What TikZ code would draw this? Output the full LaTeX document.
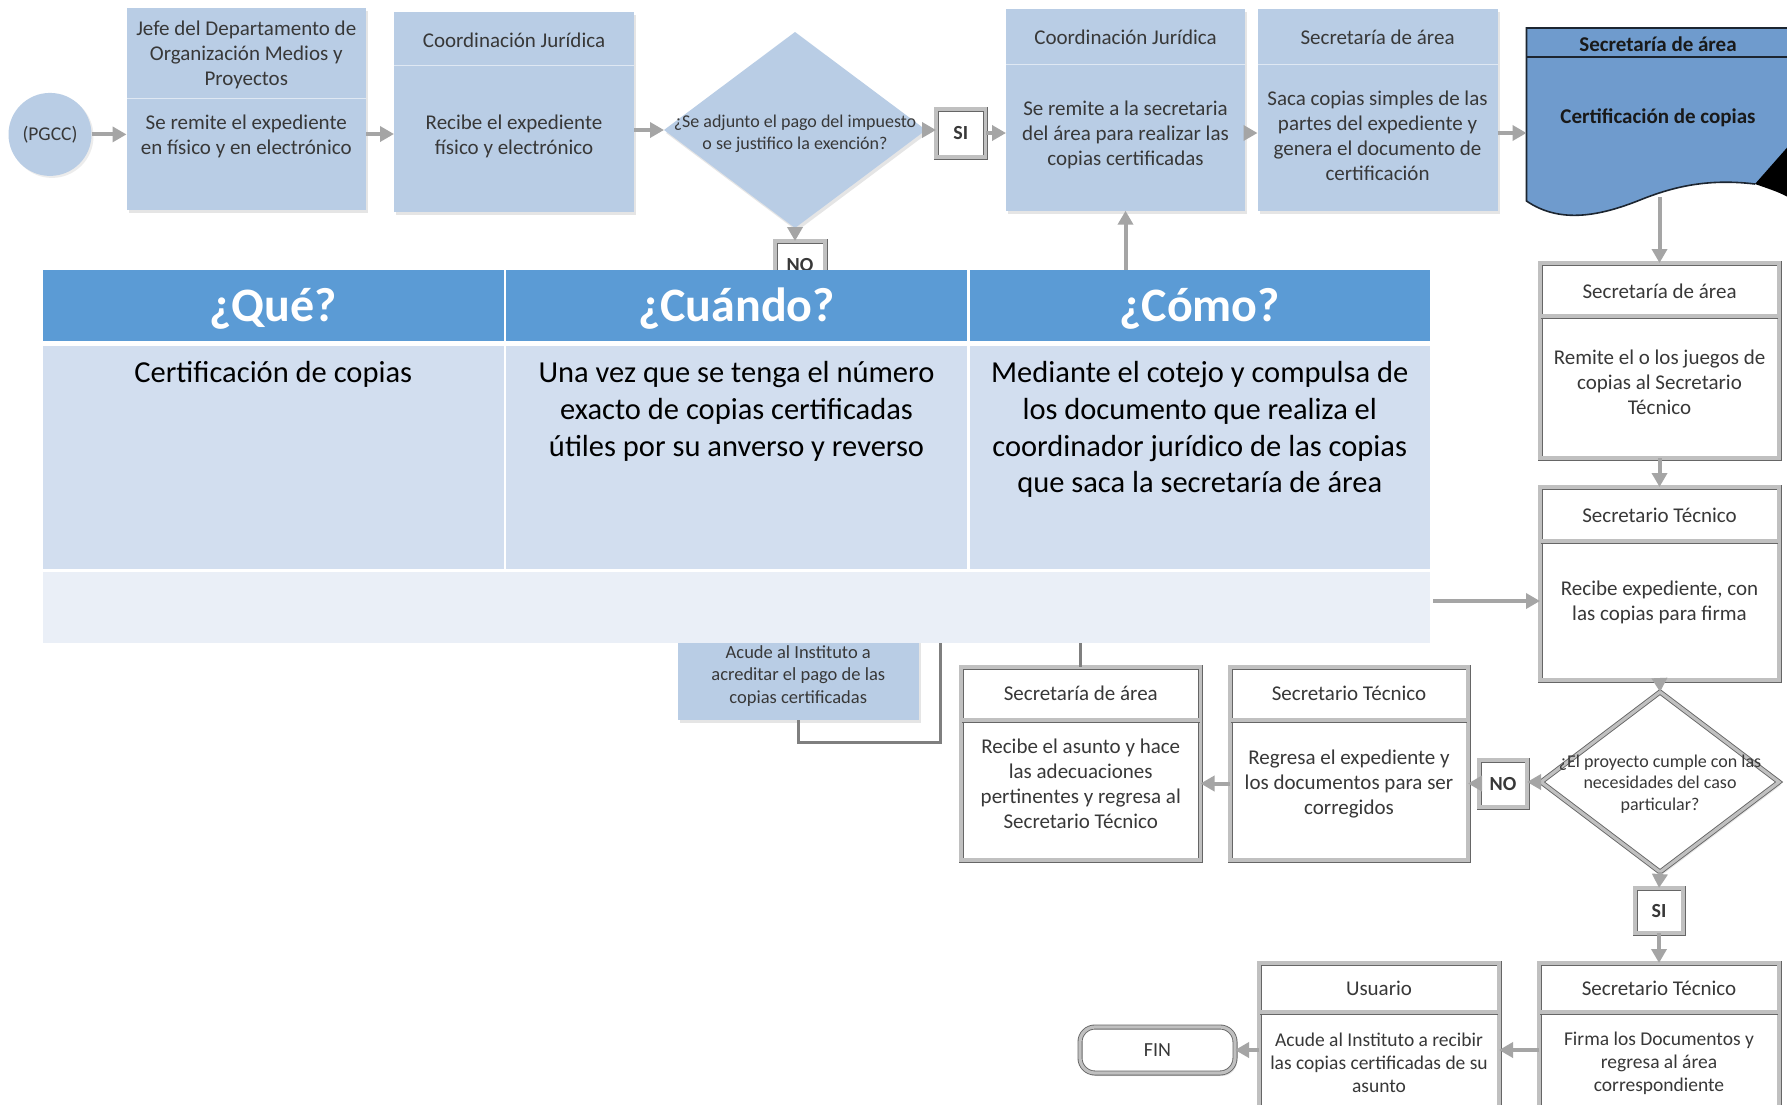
\documentclass[tikz,border=0pt]{standalone}
\usepackage{fontspec}
\setmainfont{Carlito}
\usetikzlibrary{arrows.meta,shapes.geometric,shadows}

\definecolor{boxblue}{HTML}{B9CDE5}
\definecolor{boxtext}{HTML}{383838}
\definecolor{flowgray}{HTML}{A5A5A5}
\definecolor{elbowgray}{HTML}{7F7F7F}
\definecolor{headblue}{HTML}{5B9BD5}
\definecolor{bodyblue}{HTML}{D2DEEF}
\definecolor{footblue}{HTML}{EAEFF7}
\definecolor{docblue}{HTML}{6F9BCD}
\definecolor{docedge}{HTML}{1C2530}
\definecolor{frameout}{HTML}{666666}
\definecolor{framein}{HTML}{C0C0C0}

\newcommand{\fsz}[2]{\fontsize{#1}{#2}\selectfont}

\begin{document}
\begin{tikzpicture}[x=1pt,y=-1pt,
  every node/.style={inner sep=0pt, outer sep=0pt},
  softshadow/.style={drop shadow={opacity=0.2,shadow xshift=2pt,shadow yshift=-3pt}},
  bluebox/.style={fill=boxblue, softshadow},
  bluediv/.style={draw=white, line width=1pt, opacity=0.55},
  bevel/.style={fill=white, draw=frameout, line width=0.9pt, double=framein, double distance=3.2pt, softshadow},
  bevdiv/.style={draw=frameout, line width=0.9pt, double=framein, double distance=3.2pt},
  txt/.style={text=boxtext, align=center, font=\fsz{21}{25}},
  btxt/.style={text=boxtext, align=center, font=\fsz{19.5}{23}},
  small/.style={text=boxtext, align=center, font=\fsz{18}{21.5}},
  tag/.style={text=boxtext, font=\bfseries\fsz{20}{24}},
  flow/.style={draw=flowgray, line width=4pt, -{Triangle[length=14pt,width=15pt]}},
  elbow/.style={draw=elbowgray, line width=3pt},
  th/.style={fill=headblue},
  thtext/.style={text=white, font=\bfseries\fsz{48}{56}},
  tb/.style={fill=bodyblue},
  tt/.style={text=black, align=center, font=\fsz{30.5}{36.7}, anchor=north},
]
\useasboundingbox (0,0) rectangle (1787,1104);
\clip (0,0) rectangle (1787,1104);
\fill[white] (0,0) rectangle (1787,1104);

% ---------- top row ----------
\node[circle, fill=boxblue, minimum size=83, drop shadow={opacity=0.15,shadow xshift=2pt,shadow yshift=-2pt}] (circ) at (50,134.4) {};
\node[text=boxtext, font=\fsz{19.5}{23}] (circ-t) at (circ) {(PGCC)};

\node[bluebox, minimum width=239.5, minimum height=201.7] (jefe) at (246.25,109.15) {};
\draw[bluediv] (126.5,98) -- (366,98);
\node[txt] (jefe-h) at (246.25,55) {Jefe del Departamento de\\Organización Medios y\\Proyectos};
\node[txt] (jefe-b) at (246.25,136) {Se remite el expediente\\en físico y en electrónico};

\node[bluebox, minimum width=240, minimum height=200] (cj1) at (514,111.7) {};
\draw[bluediv] (394,65) -- (634,65);
\node[txt] (cj1-h) at (514,40) {Coordinación Jurídica};
\node[txt] (cj1-b) at (514,136) {Recibe el expediente\\físico y electrónico};

\node[diamond, fill=boxblue, minimum width=262, minimum height=196, softshadow] (d1) at (795,130) {};
\node[small] (d1-t) at (795,134) {¿Se adjunto el pago del impuesto\\o se justifico la exención?};

\node[bevel, minimum width=49.7, minimum height=48] (si1) at (960.85,133) {};
\node[tag] (si1-t) at (si1) {SI};

\node[bluebox, minimum width=239, minimum height=201.4] (cj2) at (1125.5,110) {};
\draw[bluediv] (1006,64) -- (1245,64);
\node[txt] (cj2-h) at (1125.5,37) {Coordinación Jurídica};
\node[txt] (cj2-b) at (1125.5,135) {Se remite a la secretaria\\del área para realizar las\\copias certificadas};

\node[bluebox, minimum width=240, minimum height=201.4] (sa1) at (1377.5,110) {};
\draw[bluediv] (1257.5,64) -- (1497.5,64);
\node[txt] (sa1-h) at (1377.5,37) {Secretaría de área};
\node[txt] (sa1-b) at (1377.5,136) {Saca copias simples de las\\partes del expediente y\\genera el documento de\\certificación};

% document shape with wavy lower edge
\fill[docblue] (1526.5,28) -- (1800,28) -- (1800,190) -- (1755,184)
  .. controls (1705,178) and (1670,188) .. (1640,200)
  .. controls (1600,216) and (1560,224) .. (1526.5,201) -- cycle;
\fill[black] (1755,184) -- (1792,142) -- (1792,199) .. controls (1778,192) .. (1755,184) -- cycle;
\draw[docedge, line width=1.6pt] (1800,28) -- (1526.5,28) -- (1526.5,201)
  .. controls (1560,224) and (1600,216) .. (1640,200)
  .. controls (1670,188) and (1705,178) .. (1755,184);
\draw[docedge, line width=1.6pt] (1526.5,57) -- (1800,57);
\node[text=black!90, font=\bfseries\fsz{21}{25}] (doc-h) at (1658,44) {Secretaría de área};
\node[text=black!90, font=\bfseries\fsz{21}{25}] (doc) at (1658,118) {Certificación de copias};
\coordinate (docout) at (1659.5,197);

% ---------- right column ----------
\node[bevel, minimum width=239, minimum height=195] (remite) at (1659.5,360.5) {};
\draw[bevdiv] (1541,316) -- (1778,316);
\node[txt] (remite-h) at (1659.5,291) {Secretaría de área};
\node[txt] (remite-b) at (1659.5,382) {Remite el o los juegos de\\copias al Secretario\\Técnico};

\node[bevel, minimum width=239, minimum height=193] (recibe) at (1659.5,583.5) {};
\draw[bevdiv] (1541,541) -- (1778,541);
\node[txt] (recibe-h) at (1659.5,515) {Secretario Técnico};
\node[txt] (recibe-b) at (1659.5,602) {Recibe expediente, con\\las copias para firma};

\node[diamond, bevel, minimum width=238, minimum height=180] (d2) at (1660,782) {};
\node[small] (d2-t) at (1660,784) {¿El proyecto cumple con las\\necesidades del caso\\particular?};

\node[bevel, minimum width=48, minimum height=47] (no2) at (1503,783.5) {};
\node[tag] (no2-t) at (no2) {NO};

\node[bevel, minimum width=238, minimum height=193] (regresa) at (1349,763.5) {};
\draw[bevdiv] (1231,720) -- (1467,720);
\node[txt] (regresa-h) at (1349,693) {Secretario Técnico};
\node[txt] (regresa-b) at (1349,784) {Regresa el expediente y\\los documentos para ser\\corregidos};

\node[bevel, minimum width=239.5, minimum height=193] (sarec) at (1080.75,763.5) {};
\draw[bevdiv] (962,720) -- (1199.5,720);
\node[txt] (sarec-h) at (1080.75,693) {Secretaría de área};
\node[txt] (sarec-b) at (1080.75,784) {Recibe el asunto y hace\\las adecuaciones\\pertinentes y regresa al\\Secretario Técnico};

\node[bevel, minimum width=48, minimum height=45] (si2) at (1659,910.5) {};
\node[tag] (si2-t) at (si2) {SI};

\node[bevel, minimum width=240, minimum height=190] (firma) at (1659,1058) {};
\draw[bevdiv] (1540,1012) -- (1778,1012);
\node[txt] (firma-h) at (1659,988) {Secretario Técnico};
\node[btxt] (firma-b) at (1659,1063) {Firma los Documentos y\\regresa al área\\correspondiente};

\node[bevel, minimum width=240, minimum height=190] (usuario) at (1379,1058) {};
\draw[bevdiv] (1260,1012) -- (1498,1012);
\node[txt] (usuario-h) at (1379,988) {Usuario};
\node[btxt] (usuario-b) at (1379,1063) {Acude al Instituto a recibir\\las copias certificadas de su\\asunto};

\node[bevel, rounded corners=15pt, minimum width=155, minimum height=46] (fin) at (1157.5,1050) {};
\node[text=boxtext, font=\fsz{20}{24}] (fin-t) at (fin) {FIN};

% ---------- partly hidden boxes below the first decision ----------
\node[bevel, minimum width=50, minimum height=48] (no1) at (800,265) {};
\node[tag] (no1-t) at (no1) {NO};

\node[bluebox, minimum width=240.5, minimum height=140] (acude) at (798.25,650) {};
\node[text=boxtext, align=center, font=\fsz{18.5}{22.5}] (acude-t) at (798.25,676) {Acude al Instituto a\\acreditar el pago de las\\copias certificadas};
\coordinate (elb) at (940.5,620);
\draw[elbow] (acude.south) |- (elb |- 0,742) -- (elb);

% ---------- connectors ----------
\draw[flow] (circ.east) -- (circ.east -| jefe.west);
\draw[flow] (jefe.east |- 0,134) -- (cj1.west |- 0,134);
\draw[flow] (cj1.east |- d1.west) -- (d1.west);
\draw[flow] (d1.east) -- (d1.east -| si1.west);
\draw[flow] (si1.east) -- (si1.east -| cj2.west);
\draw[flow] (cj2.east |- si1.east) -- (sa1.west |- si1.east);
\draw[flow] (sa1.east |- si1.east) -- (1526.5,133);
\draw[flow] (docout) -- (remite.north);
\draw[flow] (remite.south) -- (recibe.north);
\draw[flow] (recibe.south) -- (d2.north);
\draw[flow] (d2.west) -- (d2.west -| no2.east);
\draw[flow] (no2.west) -- (no2.west -| regresa.east);
\draw[flow] (regresa.west |- no2.west) -- (sarec.east |- no2.west);
\draw[flow] (d2.south) -- (si2.north);
\draw[flow] (si2.south) -- (firma.north);
\draw[flow] (firma.west |- fin.east) -- (usuario.east |- fin.east);
\draw[flow] (usuario.west |- fin.east) -- (fin.east);
\draw[flow] (d1.south) -- (d1.south |- no1.north);

% ---------- summary table ----------
\node[th, minimum width=460.5, minimum height=71] (hque) at (273.25,305.5) {};
\node[th, minimum width=461, minimum height=71] (hcuando) at (736.5,305.5) {};
\node[th, minimum width=460.5, minimum height=71] (hcomo) at (1199.75,305.5) {};
\node[thtext] (hque-t) at (273.25,309) {¿Qué?};
\node[thtext] (hcuando-t) at (736.5,309) {¿Cuándo?};
\node[thtext] (hcomo-t) at (1199.75,309) {¿Cómo?};
\node[tb, minimum width=460.5, minimum height=223] (bque) at (273.25,457.5) {};
\node[tb, minimum width=461, minimum height=223] (bcuando) at (736.5,457.5) {};
\node[tb, minimum width=460.5, minimum height=223] (bcomo) at (1199.75,457.5) {};
\node[fill=footblue, minimum width=1387, minimum height=71] (foot) at (736.5,607.5) {};
\node[tt] (tque) at (273.25,361.5) {Certificación de copias};
\node[tt] (tcuando) at (736.5,361.5) {Una vez que se tenga el número\\exacto de copias certificadas\\útiles por su anverso y reverso};
\node[tt] (tcomo) at (1199.75,361.5) {Mediante el cotejo y compulsa de\\los documento que realiza el\\coordinador jurídico de las copias\\que saca la secretaría de área};

% connectors leaving the table
\draw[flow] (hcomo.north -| cj2.south) -- (cj2.south);
\coordinate (tout) at (1433,601);
\draw[flow] (tout) -- (tout -| recibe.west);
\draw[elbow] (sarec.north |- foot.south) -- (sarec.north);
\end{tikzpicture}
\end{document}
